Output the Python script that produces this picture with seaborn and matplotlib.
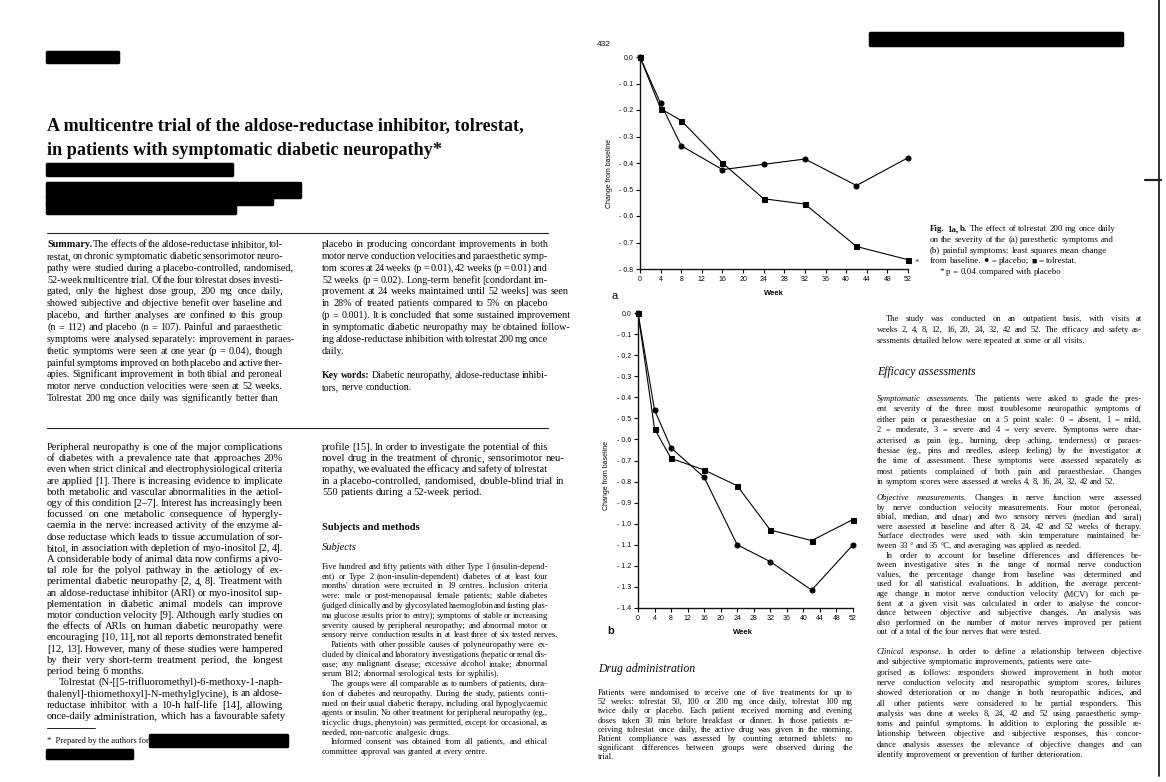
import matplotlib
matplotlib.use('Agg')
import matplotlib.pyplot as plt
import seaborn as sns
import pandas as pd
import numpy as np
from matplotlib.font_manager import FontProperties
from matplotlib.patches import Rectangle
from matplotlib.lines import Line2D

# ---- data (least squares mean change from baseline)
weeks = [0, 4, 8, 16, 24, 32, 42, 52]
para_placebo = [0.0, -0.175, -0.335, -0.425, -0.405, -0.385, -0.485, -0.38]
para_tolrestat = [0.0, -0.195, -0.24, -0.40, -0.535, -0.555, -0.715, -0.765]
pain_placebo = [0.0, -0.46, -0.64, -0.78, -1.10, -1.18, -1.315, -1.10]
pain_tolrestat = [0.0, -0.55, -0.69, -0.745, -0.82, -1.03, -1.08, -0.98]

week_ticks = [0, 4, 8, 12, 16, 20, 24, 28, 32, 36, 40, 44, 48, 52]
yticks_a = [0.0, -0.1, -0.2, -0.3, -0.4, -0.5, -0.6, -0.7, -0.8]
yticks_b = [0.0, -0.1, -0.2, -0.3, -0.4, -0.5, -0.6, -0.7, -0.8, -0.9,
            -1.0, -1.1, -1.2, -1.3, -1.4]

# ---- page text
title_lines = ["A multicentre trial of the aldose-reductase inhibitor, tolrestat,",
               "in patients with symptomatic diabetic neuropathy*"]

summary_left = [
    "#Summary. The effects of the aldose-reductase inhibitor, tol-",
    "restat, on chronic symptomatic diabetic sensorimotor neuro-",
    "pathy were studied during a placebo-controlled, randomised,",
    "52-week multicentre trial. Of the four tolrestat doses investi-",
    "gated, only the highest dose group, 200 mg once daily,",
    "showed subjective and objective benefit over baseline and",
    "placebo, and further analyses are confined to this group",
    "(n = 112) and placebo (n = 107). Painful and paraesthetic",
    "symptoms were analysed separately: improvement in paraes-",
    "thetic symptoms were seen at one year (p = 0.04), though",
    "painful symptoms improved on both placebo and active ther-",
    "apies. Significant improvement in both tibial and peroneal",
    "motor nerve conduction velocities were seen at 52 weeks.",
    "Tolrestat 200 mg once daily was significantly better than"]

summary_right = [
    "placebo in producing concordant improvements in both",
    "motor nerve conduction velocities and paraesthetic symp-",
    "tom scores at 24 weeks (p = 0.01), 42 weeks (p = 0.01) and",
    "52 weeks (p = 0.02). Long-term benefit [condordant im-",
    "provement at 24 weeks maintained until 52 weeks] was seen",
    "in 28% of treated patients compared to 5% on placebo",
    "(p = 0.001). It is concluded that some sustained improvement",
    "in symptomatic diabetic neuropathy may be obtained follow-",
    "ing aldose-reductase inhibition with tolrestat 200 mg once",
    "daily."]

key_words = ["#Key #words: Diabetic neuropathy, aldose-reductase inhibi-",
             "tors, nerve conduction."]

body_left = [
    "Peripheral neuropathy is one of the major complications",
    "of diabetes with a prevalence rate that approaches 20%",
    "even when strict clinical and electrophysiological criteria",
    "are applied [1]. There is increasing evidence to implicate",
    "both metabolic and vascular abnormalities in the aetiol-",
    "ogy of this condition [2–7]. Interest has increasingly been",
    "focussed on one metabolic consequence of hypergly-",
    "caemia in the nerve: increased activity of the enzyme al-",
    "dose reductase which leads to tissue accumulation of sor-",
    "bitol, in association with depletion of myo-inositol [2, 4].",
    "A considerable body of animal data now confirms a pivo-",
    "tal role for the polyol pathway in the aetiology of ex-",
    "perimental diabetic neuropathy [2, 4, 8]. Treatment with",
    "an aldose-reductase inhibitor (ARI) or myo-inositol sup-",
    "plementation in diabetic animal models can improve",
    "motor conduction velocity [9]. Although early studies on",
    "the effects of ARIs on human diabetic neuropathy were",
    "encouraging [10, 11], not all reports demonstrated benefit",
    "[12, 13]. However, many of these studies were hampered",
    "by their very short-term treatment period, the longest",
    "period being 6 months.|",
    ">Tolrestat (N-[[5-trifluoromethyl)-6-methoxy-1-naph-",
    "thalenyl]-thiomethoxyl]-N-methylglycine), is an aldose-",
    "reductase inhibitor with a 10-h half-life [14], allowing",
    "once-daily administration, which has a favourable safety"]

body_right = [
    "profile [15]. In order to investigate the potential of this",
    "novel drug in the treatment of chronic, sensorimotor neu-",
    "ropathy, we evaluated the efficacy and safety of tolrestat",
    "in a placebo-controlled, randomised, double-blind trial in",
    "550 patients during a 52-week period."]

subjects_text = [
    "Five hundred and fifty patients with either Type 1 (insulin-depend-",
    "ent) or Type 2 (non-insulin-dependent) diabetes of at least four",
    "months' duration were recruited in 19 centres. Inclusion criteria",
    "were: male or post-menopausal female patients; stable diabetes",
    "(judged clinically and by glycosylated haemoglobin and fasting plas-",
    "ma glucose results prior to entry); symptoms of stable or increasing",
    "severity caused by peripheral neuropathy; and abnormal motor or",
    "sensory nerve conduction results in at least three of six tested nerves.|",
    ">Patients with other possible causes of polyneuropathy were ex-",
    "cluded by clinical and laboratory investigations (hepatic or renal dis-",
    "ease; any malignant disease; excessive alcohol intake; abnormal",
    "serum B12; abnormal serological tests for syphilis).|",
    ">The groups were all comparable as to numbers of patients, dura-",
    "tion of diabetes and neuropathy. During the study, patients conti-",
    "nued on their usual diabetic therapy, including oral hypoglycaemic",
    "agents or insulin. No other treatment for peripheral neuropathy (eg.,",
    "tricyclic drugs, phenytoin) was permitted, except for occasional, as",
    "needed, non-narcotic analgesic drugs.|",
    ">Informed consent was obtained from all patients, and ethical",
    "committee approval was granted at every centre."]

caption = [
    "#Fig. #1a, #b.  The effect of tolrestat 200 mg once daily|",
    "on the severity of the  (a) paresthetic symptoms and|",
    "(b) painful symptoms: least squares mean change|",
    "from baseline. ● = placebo; ■ = tolrestat.|",
    ">* p = 0.04 compared with placebo|"]

study_text = [
    ">The study was conducted on an outpatient basis, with visits at",
    "weeks 2, 4, 8, 12, 16, 20, 24, 32, 42 and 52. The efficacy and safety as-",
    "sessments detailed below were repeated at some or all visits."]

symptomatic_text = [
    "_Symptomatic _assessments. The patients were asked to grade the pres-",
    "ent severity of the three most troublesome neuropathic symptoms of",
    "either pain or paraesthesiae on a 5 point scale: 0 = absent, 1 = mild,",
    "2 = moderate, 3 = severe and 4 = very severe. Symptoms were char-",
    "acterised as pain (eg., burning, deep aching, tenderness) or paraes-",
    "thesiae (eg., pins and needles, asleep feeling) by the investigator at",
    "the time of assessment. These symptoms were assessed separately as",
    "most patients complained of both pain and paraesthesiae. Changes",
    "in symptom scores were assessed at weeks 4, 8, 16, 24, 32, 42 and 52."]

objective_text = [
    "_Objective _measurements. Changes in nerve function were assessed",
    "by nerve conduction velocity measurements. Four motor (peroneal,",
    "tibial, median, and ulnar) and two sensory nerves (median and sural)",
    "were assessed at baseline and after 8, 24, 42 and 52 weeks of therapy.",
    "Surface electrodes were used with skin temperature maintained be-",
    "tween 33 ° and 35 °C, and averaging was applied as needed.|",
    ">In order to account for baseline differences and differences be-",
    "tween investigative sites in the range of normal nerve conduction",
    "values, the percentage change from baseline was determined and",
    "used for all statistical evaluations. In addition, the average percent-",
    "age change in motor nerve conduction velocity (MCV) for each pa-",
    "tient at a given visit was calculated in order to analyse the concor-",
    "dance between objective and subjective changes. An analysis was",
    "also performed on the number of motor nerves improved per patient",
    "out of a total of the four nerves that were tested."]

clinical_text = [
    "_Clinical _response. In order to define a relationship between objective",
    "and subjective symptomatic improvements, patients were cate-",
    "gorised as follows: responders showed improvement in both motor",
    "nerve conduction velocity and neuropathic symptom scores, failures",
    "showed deterioration or no change in both neuropathic indices, and",
    "all other patients were considered to be partial responders. This",
    "analysis was done at weeks 8, 24, 42 and 52 using paraesthetic symp-",
    "toms and painful symptoms. In addition to exploring the possible re-",
    "lationship between objective and subjective responses, this concor-",
    "dance analysis assesses the relevance of objective changes and can",
    "identify improvement or prevention of further deterioration."]

drug_text = [
    "Patients were randomised to receive one of five treatments for up to",
    "52 weeks: tolrestat 50, 100 or 200 mg once daily, tolrestat 100 mg",
    "twice daily or placebo. Each patient received morning and evening",
    "doses taken 30 min before breakfast or dinner. In those patients re-",
    "ceiving tolrestat once daily, the active drug was given in the morning.",
    "Patient compliance was assessed by counting returned tablets: no",
    "significant differences between groups were observed during the",
    "trial."]

# ---- figure and helpers (coordinates in pixels from top-left)
sns.set_style('ticks')
SERIF = ['Liberation Serif', 'DejaVu Sans']
SANS = ['Liberation Sans', 'DejaVu Sans']
plt.rcParams['font.family'] = SERIF
INK = '#0a0a0a'

W, H = 1166, 782
fig = plt.figure(figsize=(W / 100, H / 100), dpi=100)
fig.patch.set_facecolor('white')
renderer = fig.canvas.get_renderer()


def fx(x):
    return x / W


def fy(y):
    return 1 - y / H


def parse(word):
    if word.startswith('_'):
        return word[1:], 'italic', 'normal'
    if word.startswith('#'):
        return word[1:], 'normal', 'bold'
    return word, 'normal', 'normal'


def measure(s, size, style='normal', weight='normal', family=SERIF):
    prop = FontProperties(family=family, size=size, style=style, weight=weight)
    w, h, d = renderer.get_text_width_height_descent(s, prop, ismath=False)
    return w


def plain(line):
    return ' '.join(parse(w)[0] for w in line.strip('>|').split())


def fit_size(lines, width):
    ratios = [width / measure(plain(l), 10) * 10 for l in lines[:-1]
              if not l.endswith('|') and not l.startswith('>')]
    return float(np.median(ratios))


def block(x, y0, lines, lead, width, size=None):
    # justified block of text, one baseline every `lead` pixels
    if size is None:
        size = fit_size(lines, width)
    sp = measure('a a', size) - measure('aa', size)
    for i, raw in enumerate(lines):
        last = raw.endswith('|') or i == len(lines) - 1
        raw = raw.rstrip('|')
        indent = 0
        if raw.startswith('>'):
            indent = size * 1.5
            raw = raw[1:]
        words = [parse(w) for w in raw.split()]
        widths = [measure(w, size, st, wt) for w, st, wt in words]
        gap = sp
        if not last and len(words) > 1:
            gap = (width - indent - sum(widths)) / (len(words) - 1)
            if gap > 4 * sp or gap < 0.3 * sp:
                gap = sp
        cx = x + indent
        for (w, st, wt), ww in zip(words, widths):
            fig.text(fx(cx), fy(y0 + i * lead), w, fontsize=size, fontstyle=st,
                     fontweight=wt, va='baseline', ha='left', color=INK)
            cx += ww + gap
    return size


def redact(x0, y0, x1, y1):
    fig.add_artist(Rectangle((fx(x0), fy(y1)), (x1 - x0) / W, (y1 - y0) / H,
                             transform=fig.transFigure, facecolor='black',
                             edgecolor='black', linewidth=2.5, joinstyle='round'))


def rule(x0, x1, y, lw=0.8):
    fig.add_artist(Line2D([fx(x0), fx(x1)], [fy(y), fy(y)], color='#222222',
                          linewidth=lw, transform=fig.transFigure))


# ---- left page
redact(47, 52, 118, 62)
tsize = 475 / measure(title_lines[0], 10, weight='bold') * 10
fig.text(fx(47), fy(130), title_lines[0], fontsize=tsize, fontweight='bold',
         va='baseline', color=INK)
fig.text(fx(47), fy(155), title_lines[1], fontsize=tsize, fontweight='bold',
         va='baseline', color=INK)
redact(47, 164, 232, 175)
redact(47, 183, 300, 197)
redact(47, 196, 272, 204)
redact(47, 203, 235, 213)

rule(47, 548, 233)
s_sum = block(47, 247, summary_left, 11.85, 236)
block(322, 247, summary_right, 11.85, 226, size=s_sum)
block(322, 378, key_words, 12.0, 226)
rule(47, 548, 428)

s_body = block(47, 450, body_left, 11.2, 236)
block(322, 450, body_right, 11.2, 226, size=s_body)
fig.text(fx(322), fy(530), 'Subjects and methods', fontsize=s_body,
         fontweight='bold', va='baseline', color=INK)
fig.text(fx(322), fy(550), 'Subjects', fontsize=s_body, fontstyle='italic',
         va='baseline', color=INK)
s_small = block(322, 569, subjects_text, 9.75, 226)

rule(47, 95, 728, 0.7)
fig.text(fx(47), fy(743), '*  Prepared by the authors for', fontsize=s_small,
         va='baseline', color=INK)
redact(150, 735, 287, 746)
redact(47, 750, 132, 758)

# ---- right page
fig.text(fx(597), fy(46), '432', fontsize=6, family=SANS, va='baseline', color=INK)
redact(870, 33, 1122, 45)
rule(1145, 1161, 180, 1.6)
fig.add_artist(Line2D([fx(1159), fx(1159)], [fy(0), fy(776)], color='#222222',
                      linewidth=1.3, transform=fig.transFigure))

block(930, 231, caption, 10.8, 205, size=s_small * 1.05)
block(877, 321, study_text, 10.8, 265, size=s_small)
fig.text(fx(877), fy(375), 'Efficacy assessments', fontsize=8.5,
         fontstyle='italic', va='baseline', color=INK)
block(877, 401, symptomatic_text, 10.4, 265, size=s_small)
block(877, 500, objective_text, 9.6, 265, size=s_small)
block(877, 654, clinical_text, 10.3, 265, size=s_small)
fig.text(fx(598), fy(672), 'Drug administration', fontsize=8.5,
         fontstyle='italic', va='baseline', color=INK)
block(598, 695, drug_text, 9.2, 255, size=s_small)

# ---- the two panels
df_a = pd.DataFrame({'week': weeks * 2,
                     'change': para_placebo + para_tolrestat,
                     'group': ['placebo'] * len(weeks) + ['tolrestat'] * len(weeks)})
df_b = pd.DataFrame({'week': weeks * 2,
                     'change': pain_placebo + pain_tolrestat,
                     'group': ['placebo'] * len(weeks) + ['tolrestat'] * len(weeks)})

ax_a = fig.add_axes([fx(640), fy(269), (908 - 640) / W, (269 - 57) / H])
ax_b = fig.add_axes([fx(638), fy(608), (853 - 638) / W, (608 - 313) / H])

for ax, df, yt in [(ax_a, df_a, yticks_a), (ax_b, df_b, yticks_b)]:
    sns.lineplot(data=df, x='week', y='change', style='group',
                 markers={'placebo': 'o', 'tolrestat': 's'}, dashes=False,
                 color='black', markersize=3.6, linewidth=0.8,
                 markeredgecolor='black', legend=False, errorbar=None, ax=ax)
    for ln in ax.lines:
        ln.set_clip_on(False)
    ax.set_facecolor('none')
    ax.set_xlim(0, 52)
    ax.set_ylim(yt[-1], 0)
    ax.set_xticks(week_ticks)
    ax.set_xticklabels([str(w) for w in week_ticks], fontsize=5, family=SANS)
    ax.set_yticks(yt)
    ax.set_yticklabels(['0.0' if v == 0 else '- %.1f' % abs(v) for v in yt],
                       fontsize=5, family=SANS)
    ax.tick_params(direction='out', length=3, width=0.8, pad=2, colors=INK)
    for side in ['top', 'right']:
        ax.spines[side].set_visible(False)
    for side in ['left', 'bottom']:
        ax.spines[side].set_linewidth(1.0)
        ax.spines[side].set_color('#111111')
    ax.set_xlabel('Week', fontsize=5.5, family=SANS, fontweight='bold', color=INK)
    ax.set_ylabel('Change from baseline', fontsize=5, family=SANS, color=INK)

ax_a.yaxis.set_label_coords(-0.10, 0.45)
ax_a.xaxis.set_label_coords(0.50, -0.10)
ax_b.yaxis.set_label_coords(-0.13, 0.45)
ax_b.xaxis.set_label_coords(0.49, -0.07)
ax_a.annotate('*', xy=(weeks[-1], para_tolrestat[-1]), xytext=(5, -2),
              textcoords='offset points', fontsize=6, va='center')

fig.text(fx(612), fy(299), 'a', fontsize=8, family=SANS, va='baseline', color=INK)
fig.text(fx(607), fy(634), 'b', fontsize=8, family=SANS, fontweight='bold',
         va='baseline', color=INK)

fig.savefig('out.png', dpi=100, facecolor='white')
